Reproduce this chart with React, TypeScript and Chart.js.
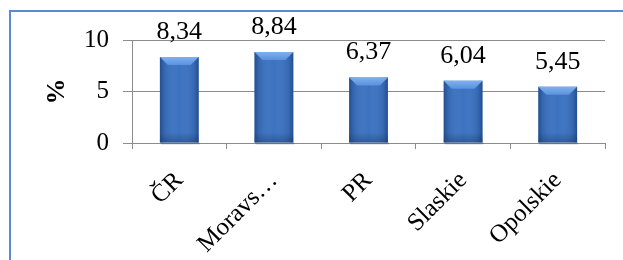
import React, { useEffect, useRef } from "react";
import { Chart, registerables } from "chart.js";

Chart.register(...registerables);

const categories = ["ČR", "Moravs…", "PR", "Slaskie", "Opolskie"];
const values = [8.34, 8.84, 6.37, 6.04, 5.45];
const yTicks = [0, 5, 10];
const yTitle = "%";

const FONT = "'Liberation Serif', 'Times New Roman', serif";

const bevelPlugin = {
  id: "bevel",
  afterDatasetsDraw(chart: any) {
    const ctx = chart.ctx;
    const meta = chart.getDatasetMeta(0);
    meta.data.forEach((bar: any) => {
      const w = bar.width;
      const left = bar.x - w / 2;
      const right = bar.x + w / 2;
      const top = bar.y;
      const base = bar.base;
      const b = 8;
      ctx.save();
      const g = ctx.createLinearGradient(left, 0, right, 0);
      g.addColorStop(0, "rgba(20,50,100,0.55)");
      g.addColorStop(0.12, "rgba(20,50,100,0.15)");
      g.addColorStop(0.5, "rgba(255,255,255,0.0)");
      g.addColorStop(0.88, "rgba(20,50,100,0.15)");
      g.addColorStop(1, "rgba(20,50,100,0.55)");
      ctx.fillStyle = g;
      ctx.fillRect(left, top, w, base - top);
      const gb = ctx.createLinearGradient(0, base - 10, 0, base);
      gb.addColorStop(0, "rgba(20,50,100,0)");
      gb.addColorStop(1, "rgba(20,50,100,0.4)");
      ctx.fillStyle = gb;
      ctx.fillRect(left, base - 10, w, 10);
      ctx.beginPath();
      ctx.moveTo(left, top);
      ctx.lineTo(right, top);
      ctx.lineTo(right - b, top + b);
      ctx.lineTo(left + b, top + b);
      ctx.closePath();
      const gt = ctx.createLinearGradient(0, top, 0, top + b);
      gt.addColorStop(0, "#7FB0EE");
      gt.addColorStop(1, "#5A92DC");
      ctx.fillStyle = gt;
      ctx.fill();
      ctx.fillStyle = "rgba(0,0,0,0.18)";
      ctx.fillRect(left + 1, base, w, 2);
      ctx.restore();
    });
  },
};

const labelPlugin = {
  id: "valueLabels",
  afterDatasetsDraw(chart: any) {
    const ctx = chart.ctx;
    const meta = chart.getDatasetMeta(0);
    ctx.save();
    ctx.font = `26px ${FONT}`;
    ctx.fillStyle = "#000";
    ctx.textAlign = "center";
    ctx.textBaseline = "alphabetic";
    meta.data.forEach((bar: any, i: number) => {
      const txt = values[i].toFixed(2).replace(".", ",");
      ctx.fillText(txt, bar.x, bar.y - 18);
    });
    ctx.restore();
  },
};

export default function App() {
  const ref = useRef<HTMLCanvasElement>(null);
  useEffect(() => {
    const chart = new Chart(ref.current as HTMLCanvasElement, {
      type: "bar",
      data: {
        labels: categories,
        datasets: [
          {
            data: values,
            backgroundColor: "#3B72C0",
            borderWidth: 0,
            barPercentage: 0.41,
            categoryPercentage: 1,
          },
        ],
      },
      options: {
        animation: false,
        responsive: false,
        maintainAspectRatio: false,
        layout: { padding: { top: 40, right: 18, left: 0, bottom: 0 } },
        plugins: {
          legend: { display: false },
          tooltip: { enabled: false },
        },
        scales: {
          x: {
            afterFit(scale: any) {
              scale.height = 117;
            },
            grid: {
              display: true,
              offset: true,
              drawOnChartArea: false,
              tickLength: 6,
              color: "#8C8C8C",
            },
            border: { display: true, color: "#8C8C8C", width: 1 },
            ticks: {
              color: "#000",
              font: { family: FONT, size: 25 },
              minRotation: 45,
              maxRotation: 45,
              autoSkip: false,
              padding: 17,
            },
          },
          y: {
            min: 0,
            max: 10,
            afterFit(scale: any) {
              scale.width = 132;
            },
            afterBuildTicks(scale: any) {
              scale.ticks = yTicks.map((v) => ({ value: v }));
            },
            grid: {
              color: "#8C8C8C",
              tickLength: 9,
            },
            border: { display: true, color: "#8C8C8C", width: 1 },
            ticks: {
              color: "#000",
              font: { family: FONT, size: 25 },
              padding: 14,
            },
            title: {
              display: true,
              text: yTitle,
              color: "#000",
              font: { family: FONT, size: 26, weight: "bold" },
              padding: { top: 42, bottom: 0 },
            },
          },
        },
      },
      plugins: [bevelPlugin, labelPlugin],
    });
    return () => chart.destroy();
  }, []);
  return (
    <div
      style={{
        position: "fixed",
        left: 0,
        top: 0,
        width: 623,
        height: 260,
        background: "#fff",
        overflow: "hidden",
      }}
    >
      <canvas ref={ref} width={623} height={260} style={{ position: "absolute", left: 0, top: 0 }} />
      <div
        style={{
          position: "absolute",
          left: 9,
          top: 10,
          width: 700,
          height: 400,
          borderTop: "2px solid #5A8AD0",
          borderLeft: "2px solid #5A8AD0",
          pointerEvents: "none",
        }}
      />
    </div>
  );
}
